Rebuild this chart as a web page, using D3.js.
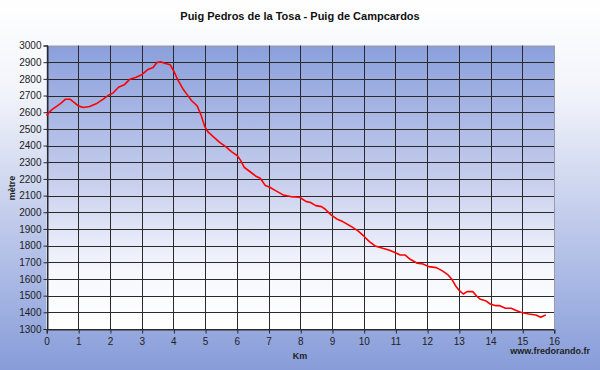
<!DOCTYPE html>
<html><head><meta charset="utf-8">
<script src="https://cdn.jsdelivr.net/npm/d3@7"></script>
<style>body{margin:0;padding:0;overflow:hidden}svg{display:block}</style>
</head><body>
<script>
const title = "Puig Pedros de la Tosa - Puig de Campcardos";
const xLabel = "Km";
const yLabel = "mètre";
const credit = "www.fredorando.fr";
const xTicks = [0,1,2,3,4,5,6,7,8,9,10,11,12,13,14,15,16];
const yTicks = [1300,1400,1500,1600,1700,1800,1900,2000,2100,2200,2300,2400,2500,2600,2700,2800,2900,3000];
const km = [0,0.16,0.34,0.46,0.6,0.74,0.88,1.0,1.16,1.36,1.6,1.79,1.97,2.09,2.27,2.45,2.63,2.81,3.0,3.18,3.36,3.48,3.6,3.72,3.9,4.02,4.14,4.32,4.44,4.57,4.75,4.87,4.99,5.1,5.29,5.47,5.65,5.83,6.01,6.11,6.23,6.44,6.62,6.74,6.9,7.04,7.22,7.46,7.7,7.98,8.19,8.31,8.49,8.67,8.79,8.97,9.15,9.34,9.58,9.82,10.0,10.18,10.36,10.6,10.79,10.97,11.15,11.3,11.45,11.69,11.87,12.05,12.29,12.47,12.66,12.78,12.9,13.02,13.14,13.26,13.44,13.56,13.68,13.84,13.99,14.17,14.29,14.47,14.65,14.77,14.95,15.2,15.43,15.58,15.74];
const elevation = [2580,2614,2638,2654,2678,2678,2658,2638,2628,2634,2654,2678,2704,2714,2750,2764,2798,2808,2824,2854,2868,2898,2902,2894,2884,2844,2794,2734,2704,2670,2638,2584,2514,2480,2448,2418,2394,2364,2340,2314,2270,2240,2214,2204,2160,2150,2130,2104,2094,2090,2064,2060,2040,2034,2018,1984,1960,1944,1918,1888,1858,1824,1798,1784,1774,1760,1744,1744,1720,1694,1690,1674,1668,1650,1624,1598,1558,1530,1510,1524,1524,1498,1478,1470,1450,1440,1440,1424,1424,1414,1400,1390,1384,1370,1384];

const W = 600, H = 370;
const m = {left:46.5, right:554, top:45.5, bottom:329};
const svg = d3.select("body").append("svg").attr("width",W).attr("height",H);
const defs = svg.append("defs");
const bg = defs.append("linearGradient").attr("id","bg").attr("x1",0).attr("y1",0).attr("x2",0).attr("y2",1);
bg.append("stop").attr("offset","0%").attr("stop-color","#ffffff");
bg.append("stop").attr("offset","25%").attr("stop-color","#f2f4fb");
bg.append("stop").attr("offset","100%").attr("stop-color","#879cd9");
const pg = defs.append("linearGradient").attr("id","pg").attr("x1",0).attr("y1",0).attr("x2",0).attr("y2",1);
pg.append("stop").attr("offset","0%").attr("stop-color","#8a9fdb");
pg.append("stop").attr("offset","45%").attr("stop-color","#c3cbec");
pg.append("stop").attr("offset","80%").attr("stop-color","#f7f8fd");
pg.append("stop").attr("offset","100%").attr("stop-color","#ffffff");

svg.append("rect").attr("width",W).attr("height",H).attr("fill","url(#bg)");

const x = d3.scaleLinear().domain([0,16]).range([m.left,m.right]);
const y = d3.scaleLinear().domain([1300,3000]).range([m.bottom,m.top]);

svg.append("rect").attr("x",x(0)).attr("y",y(3000)).attr("width",x(16)-x(0)).attr("height",y(1300)-y(3000)).attr("fill","url(#pg)");

const g = svg.append("g");
// grid
g.selectAll("line.h").data(yTicks).join("line")
  .attr("x1",x(0)).attr("x2",x(16)).attr("y1",d=>Math.round(y(d))+0.5).attr("y2",d=>Math.round(y(d))+0.5)
  .attr("stroke",d=>d===3000?"#9a9aa8":"#2a2a2a").attr("stroke-width",1);
g.selectAll("line.v").data(xTicks).join("line")
  .attr("y1",y(3000)).attr("y2",y(1300)).attr("x1",d=>Math.round(x(d))+0.5).attr("x2",d=>Math.round(x(d))+0.5)
  .attr("stroke",d=>d===16?"#9a9aa8":"#2a2a2a").attr("stroke-width",1);

// axes
const xa = svg.append("g").attr("transform",`translate(0,${Math.round(y(1300))+0.5})`)
  .call(d3.axisBottom(x).tickValues(xTicks).tickSize(4).tickPadding(4).tickFormat(d3.format("d")));
const ya = svg.append("g").attr("transform",`translate(${Math.round(x(0))+0.5},0)`)
  .call(d3.axisLeft(y).tickValues(yTicks).tickSize(4).tickPadding(2).tickFormat(d3.format("d")));
[xa,ya].forEach(a=>{
  a.select(".domain").attr("stroke","#2a2a2a");
  a.selectAll(".tick line").attr("stroke","#2a2a2a");
  a.selectAll("text").attr("fill","#222").attr("font-family","Arial, 'Liberation Sans', sans-serif").attr("font-size","10px");
});
xa.selectAll(".tick line").attr("transform","translate(0.5,0)");

// line
svg.append("path").datum(km.map((k,i)=>[k,elevation[i]]))
  .attr("fill","none").attr("stroke","#ff0000").attr("stroke-width",1.6).attr("stroke-linejoin","round")
  .attr("d",d3.line().x(d=>x(d[0])).y(d=>y(d[1])));

const font = "Arial, 'Liberation Sans', sans-serif";
svg.append("text").attr("x",300).attr("y",20).attr("text-anchor","middle").attr("font-family",font)
  .attr("font-weight","bold").attr("font-size","11px").attr("fill","#111").text(title);
svg.append("text").attr("x",300).attr("y",359).attr("text-anchor","middle").attr("font-family",font)
  .attr("font-weight","bold").attr("font-size","9px").attr("fill","#222").text(xLabel);
svg.append("text").attr("transform","translate(15,188) rotate(-90)").attr("text-anchor","middle").attr("font-family",font)
  .attr("font-weight","bold").attr("font-size","9px").attr("fill","#222").text(yLabel);
svg.append("text").attr("x",590).attr("y",354).attr("text-anchor","end").attr("font-family",font)
  .attr("font-weight","bold").attr("font-size","9px").attr("fill","#222").text(credit);
</script>
</body></html>
